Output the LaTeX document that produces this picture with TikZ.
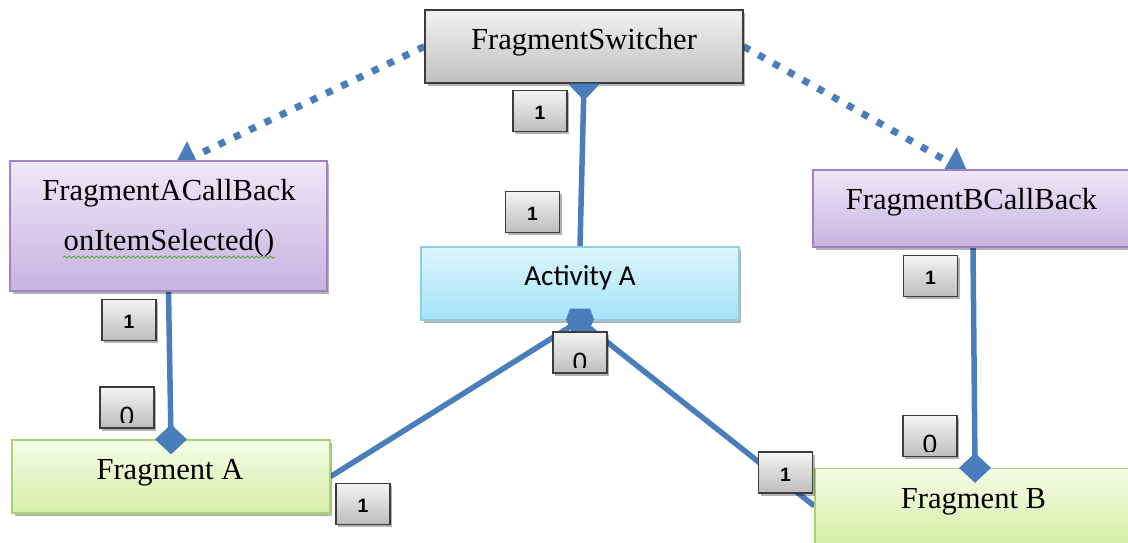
\documentclass[tikz,border=0pt]{standalone}
\usepackage{fontspec}
\setmainfont{Liberation Serif}
\newfontfamily\actfont{Carlito}
\newfontfamily\numfont{Liberation Sans}
\usetikzlibrary{arrows.meta,shadows,calc,decorations.pathmorphing}

\definecolor{conn}{RGB}{74,126,187}
\definecolor{graytop}{HTML}{F2F2F2}
\definecolor{graybot}{HTML}{C0C0C0}
\definecolor{graydraw}{HTML}{3C3C3C}
\definecolor{purptop}{HTML}{EEE8F7}
\definecolor{purpbot}{HTML}{C6B3E0}
\definecolor{purpdraw}{HTML}{9E84C4}
\definecolor{cyantop}{HTML}{DDF6FD}
\definecolor{cyanbot}{HTML}{A3E3F7}
\definecolor{cyandraw}{HTML}{8ECEE2}
\definecolor{greentop}{HTML}{F3FDE7}
\definecolor{greenbot}{HTML}{D5EFA5}
\definecolor{greendraw}{HTML}{A9D373}
\definecolor{lbltop}{HTML}{F4F4F4}
\definecolor{lblbot}{HTML}{BDBDBD}
\definecolor{squiggle}{HTML}{5FA83A}

\pgfdeclarelayer{back}
\pgfsetlayers{back,main}

\tikzset{
  box/.style={rectangle, inner sep=0pt, line width=0.025cm,
    drop shadow={shadow xshift=0.05cm, shadow yshift=-0.06cm, fill=black, opacity=0.3}},
  boxgray/.style={box, draw=graydraw, top color=graytop, bottom color=graybot},
  boxpurple/.style={box, draw=purpdraw, top color=purptop, bottom color=purpbot},
  boxcyan/.style={box, draw=cyandraw, top color=cyantop, bottom color=cyanbot},
  boxgreen/.style={box, draw=greendraw, top color=greentop, bottom color=greenbot},
  txt/.style={inner sep=0pt, anchor=base, text=black, font=\fontsize{17.4}{21}\selectfont},
  acttxt/.style={inner sep=0pt, anchor=base, text=black, font=\actfont\fontsize{16.5}{20}\selectfont},
  lbl/.style={rectangle, draw=graydraw, line width=0.025cm, top color=lbltop, bottom color=lblbot,
    minimum width=1.08cm, minimum height=0.82cm, inner sep=0pt,
    text height=0.35cm, text depth=0pt,
    font=\numfont\bfseries\fontsize{11}{13}\selectfont,
    drop shadow={shadow xshift=0.04cm, shadow yshift=-0.05cm, fill=black, opacity=0.3}},
  zero/.style={inner sep=0pt, anchor=north, font=\numfont\fontsize{15}{17}\selectfont},
  solidconn/.style={draw=conn, line width=0.11cm},
  dotconn/.style={draw=conn, line width=0.14cm, dash pattern=on 0.14cm off 0.2cm,
    -{Triangle[length=0.45cm, width=0.64cm]}},
  squig/.style={draw=squiggle, line width=0.5pt, decorate,
    decoration={snake, amplitude=0.6pt, segment length=2.6pt}}
}

\begin{document}
\begin{tikzpicture}[x=0.02cm, y=-0.02cm]
\useasboundingbox (0,0) rectangle (1128,542);

% class boxes
\node[boxgray, minimum width=6.36cm, minimum height=1.46cm] (sw) at (584,46.5) {};
\node[boxpurple, minimum width=6.34cm, minimum height=2.6cm] (fac) at (168.5,226) {};
\node[boxpurple, minimum width=6.4cm, minimum height=1.54cm] (fbc) at (973,208.5) {};
\node[boxcyan, minimum width=6.36cm, minimum height=1.46cm] (act) at (580,283.5) {};
\node[boxgreen, minimum width=6.36cm, minimum height=1.46cm] (fa) at (171,476.5) {};
\node[boxgreen, minimum width=6.4cm, minimum height=1.5cm] (fb) at (975,506) {};

% box titles
\node[txt] (sw-t) at (584,49) {FragmentSwitcher};
\node[txt] (fac-t1) at (169,200) {FragmentACallBack};
\node[txt] (fac-t2) at (169,250) {onItemSelected()};
\node[txt] (fbc-t) at (971.5,209) {FragmentBCallBack};
\node[acttxt] (act-t) at (580,285) {Activity A};
\node[txt] (fa-t) at (170,479) {Fragment A};
\node[txt] (fb-t) at (973.5,508) {Fragment B};

% wavy underline under the method name
\draw[squig] ($(fac-t2.base west)+(0,7)$) -- ($(fac-t2.base east)+(0,7)$);

% connectors
\coordinate (fac-tip) at (174,166);
\coordinate (fbc-tip) at (968,173);
\begin{pgfonlayer}{back}
  \draw[dotconn] (sw.west) -- (fac-tip);
  \draw[dotconn] (sw.east) -- (fbc-tip);
  \draw[solidconn] (sw.south) -- (act.north);
  \draw[solidconn] (fac.south) -- (fa.north);
  \draw[solidconn] (fbc.south) -- (fb.north);
  \draw[solidconn] (act.south) -- (fa.east);
  \draw[solidconn] (act.south) -- (fb.west);
\end{pgfonlayer}

% connector end marks
\fill[conn] (sw.south) +(-16,0) -- +(16,0) -- +(3,14) -- +(-3,14) -- cycle;
\fill[conn] (act.south) +(-10,-12) -- +(10,-12) -- +(14,-1) -- +(8,12) -- +(-8,12) -- +(-14,-1) -- cycle;
\fill[conn] (fa.north) +(-16,0) -- +(0,-15) -- +(16,0) -- +(0,15) -- cycle;
\fill[conn] (fb.north) +(-16,0) -- +(0,-15) -- +(16,0) -- +(0,15) -- cycle;

% multiplicity labels
\node[lbl] (l1) at (540,111) {1};
\node[lbl] (l2) at (532.5,212) {1};
\node[lbl] (l3) at (129,320) {1};
\node[lbl] (l5) at (363,504) {1};
\node[lbl] (l7) at (930.5,276) {1};
\node[lbl] (l9) at (785.5,472.5) {1};

\node[lbl] (l4) at (127,407.5) {};
\begin{scope}
  \clip (l4.north west) rectangle ($(l4.south east)+(0,-6)$);
  \node[zero] (l4-t) at ($(l4.north)+(0,20)$) {0};
\end{scope}
\node[lbl] (l6) at (580,352.5) {};
\begin{scope}
  \clip (l6.north west) rectangle ($(l6.south east)+(0,-6)$);
  \node[zero] (l6-t) at ($(l6.north)+(0,21)$) {0};
\end{scope}
\node[lbl] (l8) at (930,436) {};
\begin{scope}
  \clip (l8.north west) rectangle ($(l8.south east)+(0,-6)$);
  \node[zero] (l8-t) at ($(l8.north)+(0,20)$) {0};
\end{scope}
\end{tikzpicture}
\end{document}
